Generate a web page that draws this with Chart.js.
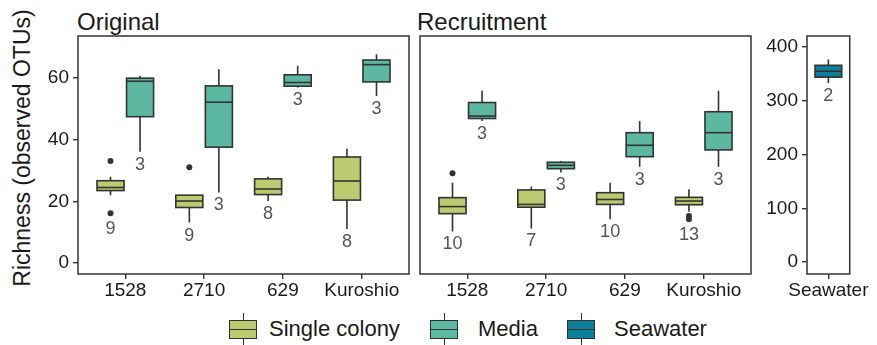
<!DOCTYPE html>
<html>
<head>
<meta charset="utf-8">
<script src="https://cdn.jsdelivr.net/npm/chart.js@4.4.1/dist/chart.umd.min.js"></script>
<style>
  body { margin: 0; background: #fff; font-family: 'Liberation Sans', Arial, sans-serif; }
  #wrap { position: relative; width: 877px; height: 345px; overflow: hidden; }
  .panel { position: absolute; top: 0; }
  .ptitle { position: absolute; top: 10px; font-size: 24px; line-height: 24px; color: #1a1a1a; }
  #ytitle { position: absolute; left: 22px; top: 148px; transform: translate(-50%, -50%) rotate(-90deg);
            font-size: 23px; line-height: 24px; white-space: nowrap; color: #1a1a1a; }
  .whisk { position: absolute; top: 313px; width: 1.6px; height: 33px; background: #333; }
  .gbox { position: absolute; top: 320px; width: 26px; height: 17px; border: 1.6px solid #333; }
  .gbox i { position: absolute; left: 0; right: 0; top: 7.7px; height: 1.6px; background: #333; }
  .ltext { position: absolute; top: 318px; font-size: 22px; line-height: 22px; color: #1a1a1a; }
</style>
</head>
<body>
<div id="wrap">
  <div id="ytitle">Richness (observed OTUs)</div>
  <div class="ptitle" style="left:77px">Original</div>
  <div class="ptitle" style="left:417px">Recruitment</div>
  <canvas class="panel" id="orig" width="412" height="310" style="left:0"></canvas>
  <canvas class="panel" id="recr" width="342" height="310" style="left:412px"></canvas>
  <canvas class="panel" id="sea" width="121" height="310" style="left:756px"></canvas>

  <div class="whisk" style="left:242.7px"></div>
  <div class="gbox" style="left:229px;background:#bccb6f"><i></i></div>
  <div class="ltext" style="left:269px">Single colony</div>
  <div class="whisk" style="left:443.7px"></div>
  <div class="gbox" style="left:430px;background:#5cb8a0"><i></i></div>
  <div class="ltext" style="left:478px">Media</div>
  <div class="whisk" style="left:580.7px"></div>
  <div class="gbox" style="left:567px;background:#0e7f9b"><i></i></div>
  <div class="ltext" style="left:614px">Seawater</div>
</div>

<script>
// ─── data ───
const sites = ['1528', '2710', '629', 'Kuroshio'];
const seaSites = ['Seawater'];
const richTicks = [0, 20, 40, 60];
const seaTicks = [0, 100, 200, 300, 400];

// per site: [lower whisker, Q1, median, Q3, upper whisker]
const origSingle = [[22.0, 23.5, 24.5, 26.7, 28.0], [13.1, 18.0, 20.1, 22.0, 22.0], [20.1, 22.2, 24.0, 27.3, 28.0], [11.0, 20.4, 26.6, 34.4, 37.1]];
const origMedia = [[36.1, 47.5, 59.0, 60.0, 60.7], [22.9, 37.6, 52.2, 57.5, 62.9], [57.0, 57.4, 58.6, 61.1, 64.0], [54.2, 58.8, 64.4, 65.9, 67.8]];
const recSingle = [[10.2, 16.0, 18.3, 21.2, 26.0], [11.2, 18.1, 19.0, 23.7, 24.8], [14.2, 19.0, 20.6, 22.8, 26.0], [16.6, 18.9, 20.1, 21.3, 23.9]];
const recMedia = [[46.1, 46.9, 47.7, 52.1, 55.9], [29.4, 30.6, 31.7, 32.7, 33.1], [31.2, 34.5, 38.2, 42.3, 46.1], [31.2, 36.7, 42.3, 49.1, 55.9]];
const seaBox = [[333, 344, 355, 366, 377]];

// outliers per site
const origSingleOut = [[33.1, 16.1], [31.1], [], []];
const recSingleOut = [[29.1], [], [], [15.2, 14.2]];
const noOut = [[], [], [], []];

// sample counts
const origSingleN = [9, 9, 8, 8];
const origMediaN = [3, 3, 3, 3];
const recSingleN = [10, 7, 10, 13];
const recMediaN = [3, 3, 3, 3];
const seaN = [2];

const colSingle = '#bccb6f', colMedia = '#5cb8a0', colSea = '#0e7f9b';
const FONT = "'Liberation Sans', Arial, sans-serif";
const INK = '#333';

// ─── box plot plugin ───
const boxPlugin = {
    id: 'boxes',
    beforeDatasetsDraw(chart, args, opts) {
        const { ctx, scales: { x, y } } = chart;
        ctx.save();
        ctx.strokeStyle = INK;
        ctx.lineWidth = 1.6;
        opts.groups.forEach(g => {
            const half = (x.getPixelForValue(g.width) - x.getPixelForValue(0)) / 2;
            g.stats.forEach((s, i) => {
                const cx = x.getPixelForValue(i + 1 + g.shift);
                const [lo, q1, med, q3, hi] = s.map(v => y.getPixelForValue(v));
                ctx.beginPath();
                ctx.moveTo(cx, hi); ctx.lineTo(cx, q3);
                ctx.moveTo(cx, q1); ctx.lineTo(cx, lo);
                ctx.stroke();
                ctx.fillStyle = g.color;
                ctx.fillRect(cx - half, q3, half * 2, q1 - q3);
                ctx.strokeRect(cx - half, q3, half * 2, q1 - q3);
                ctx.beginPath();
                ctx.moveTo(cx - half, med); ctx.lineTo(cx + half, med);
                ctx.stroke();
            });
        });
        ctx.restore();
    },
    afterDraw(chart, args, opts) {
        const { ctx, chartArea: a, scales: { x, y } } = chart;
        ctx.save();
        // counts under each box
        ctx.fillStyle = '#555';
        ctx.font = '18px ' + FONT;
        ctx.textAlign = 'center';
        ctx.textBaseline = 'middle';
        opts.groups.forEach(g => {
            g.stats.forEach((s, i) => {
                const cx = x.getPixelForValue(i + 1 + g.shift);
                const outs = g.out[i] || [];
                const low = Math.min(s[0], ...outs);
                const extra = outs.length && low < s[0] ? 3 : 0;
                ctx.fillText(String(g.n[i]), cx, y.getPixelForValue(low) + extra + 13);
            });
        });
        // panel border
        ctx.strokeStyle = INK;
        ctx.lineWidth = 1.5;
        ctx.strokeRect(a.left, a.top, a.width, a.height);
        ctx.restore();
    }
};

function panel(id, cats, yMin, yMax, yTicks, groups, yWidth, pad) {
    const datasets = groups.map(g => ({
        data: g.out.flatMap((vals, i) => vals.map(v => ({ x: i + 1 + g.shift, y: v }))),
        pointRadius: 3,
        pointHoverRadius: 3,
        pointBackgroundColor: INK,
        pointBorderWidth: 0
    }));
    const tickFont = { family: FONT, size: 19 };
    new Chart(document.getElementById(id), {
        type: 'scatter',
        data: { datasets },
        options: {
            responsive: false,
            animation: false,
            events: [],
            layout: { padding: pad },
            plugins: {
                legend: { display: false },
                tooltip: { enabled: false },
                boxes: { groups }
            },
            scales: {
                x: {
                    type: 'linear',
                    min: 0.4,
                    max: cats.length + 0.6,
                    afterBuildTicks: s => { s.ticks = cats.map((c, i) => ({ value: i + 1 })); },
                    afterFit: s => { s.height = 36; },
                    ticks: { callback: v => cats[v - 1], autoSkip: false, maxRotation: 0, padding: 0, color: '#1a1a1a', font: tickFont },
                    grid: { drawOnChartArea: false, tickLength: 5, color: INK, lineWidth: 1.4 },
                    border: { display: false }
                },
                y: {
                    display: yTicks !== null,
                    min: yMin,
                    max: yMax,
                    afterBuildTicks: s => { s.ticks = (yTicks || []).map(v => ({ value: v })); },
                    afterFit: s => { s.width = yWidth; },
                    ticks: { padding: 4, color: '#1a1a1a', font: tickFont },
                    grid: { drawOnChartArea: false, tickLength: 5, color: INK, lineWidth: 1.4 },
                    border: { display: false }
                }
            }
        },
        plugins: [boxPlugin]
    });
}

const dodge = 0.1875, boxW = 0.343;

panel('orig', sites, -3.6, 73.7, richTicks, [
    { stats: origSingle, out: origSingleOut, n: origSingleN, color: colSingle, shift: -dodge, width: boxW },
    { stats: origMedia, out: noOut, n: origMediaN, color: colMedia, shift: dodge, width: boxW }
], 78, { left: 0, right: 3, top: 36, bottom: 0 });

panel('recr', sites, -3.6, 73.7, null, [
    { stats: recSingle, out: recSingleOut, n: recSingleN, color: colSingle, shift: -dodge, width: boxW },
    { stats: recMedia, out: noOut, n: recMediaN, color: colMedia, shift: dodge, width: boxW }
], 0, { left: 8, right: 3, top: 36, bottom: 0 });

panel('sea', seaSites, -22, 420.5, seaTicks, [
    { stats: seaBox, out: [[]], n: seaN, color: colSea, shift: 0, width: 0.75 }
], 51, { left: 0, right: 17, top: 36, bottom: 0 });
</script>
</body>
</html>
